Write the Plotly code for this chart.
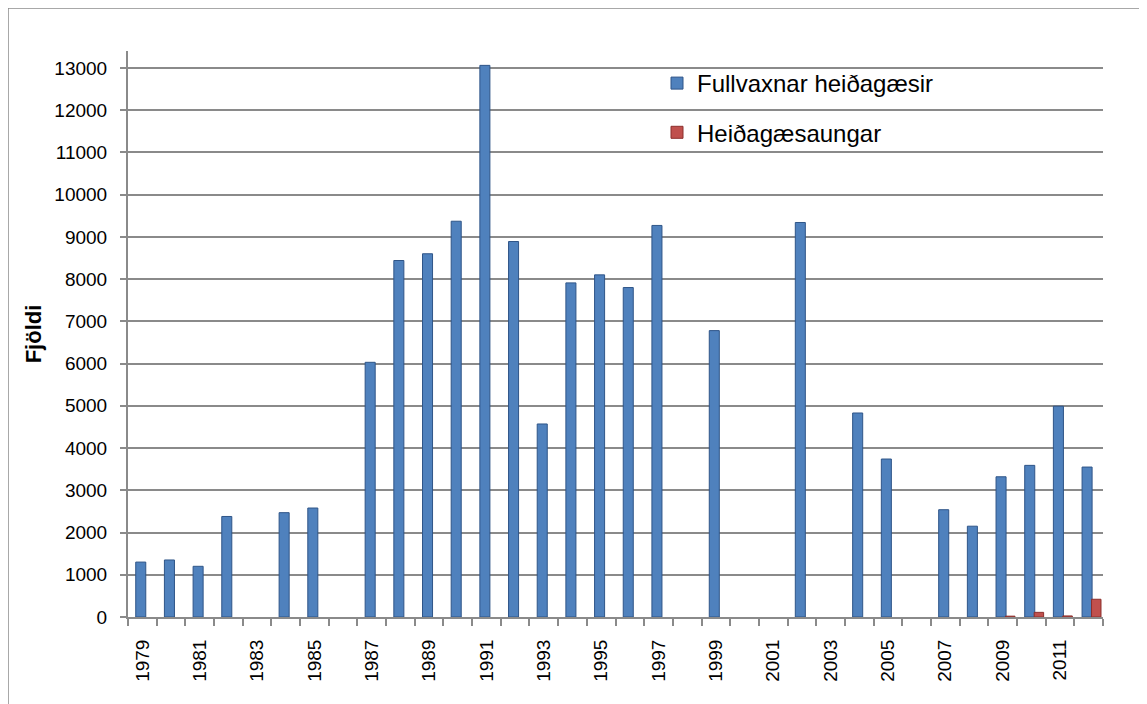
import plotly.graph_objects as go

years = list(range(1979, 2013))
adults = [1300, 1350, 1200, 2380, None, 2470, 2580, None, 6030, 8440,
          8600, 9370, 13060, 8890, 4570, 7910, 8100, 7800, 9270, None,
          6780, None, None, 9340, None, 4830, 3740, None, 2540, 2150,
          3320, 3590, 4990, 3550]
goslings = [None] * 30 + [20, 110, 25, 420]
tick_years = list(range(1979, 2013, 2))
boundaries = [y - 0.5 for y in years] + [years[-1] + 0.5]

name_adults = "Fullvaxnar heiðagæsir"
name_goslings = "Heiðagæsaungar"

FONT = "Liberation Sans, Arial, sans-serif"
GRID = "#8a8a8a"

# page body has an 8px margin; target positions are screen pixels
OFF = 8
W, H = 1147 - OFF, 704 - OFF
L, T = 128 - OFF, 51 - OFF
R = W - (1103 - OFF)
B = H - (617 - OFF)
pw, ph = W - L - R, H - T - B


def px(xs):
    return (xs - OFF - L) / pw


def py(ys):
    return (H - B - (ys - OFF)) / ph


fig = go.Figure()
fig.add_trace(go.Bar(
    x=years, y=adults, name=name_adults, legendgroup="a",
    width=0.35, offset=-0.23,
    marker=dict(color="#4F81BD", line=dict(color="#2f5588", width=1)),
))
fig.add_trace(go.Bar(
    x=years, y=goslings, name=name_goslings, legendgroup="b",
    width=0.33, offset=0.1,
    marker=dict(color="#C0504D", line=dict(color="#8c2f2c", width=1)),
))

fig.update_layout(
    width=W, height=H,
    margin=dict(l=L, r=R, t=T, b=B),
    paper_bgcolor="white", plot_bgcolor="white",
    barmode="overlay",
    font=dict(family=FONT, size=18, color="black"),
    legend=dict(
        x=px(657), y=py(61), xanchor="left", yanchor="top",
        bgcolor="rgba(0,0,0,0)", font=dict(size=24, family=FONT),
        traceorder="grouped", tracegroupgap=15,
    ),
    xaxis=dict(
        range=[1978.5, 2012.5],
        tickmode="array", tickvals=tick_years, ticktext=[str(y) for y in tick_years],
        tickangle=-90, ticks="", tickfont=dict(size=19), ticklabelstandoff=13,
        showgrid=False, zeroline=False,
        showline=True, linecolor=GRID, linewidth=2,
        minor=dict(tickmode="array", tickvals=boundaries, ticks="outside",
                   ticklen=7, tickcolor=GRID, tickwidth=2, showgrid=False),
    ),
    yaxis=dict(
        range=[0, 13400], tickmode="linear", tick0=0, dtick=1000, tickformat="d",
        showgrid=True, gridcolor=GRID, gridwidth=2,
        zeroline=False, showline=True, linecolor=GRID, linewidth=2,
        ticks="outside", ticklen=6, tickcolor=GRID, tickwidth=2,
        tickfont=dict(size=19), ticklabelstandoff=9,
        title=dict(text="<b>Fjöldi</b>", font=dict(size=22), standoff=7),
    ),
    shapes=[dict(
        type="rect", xref="paper", yref="paper",
        x0=px(8), x1=px(1160), y0=py(720), y1=py(8),
        line=dict(color="#8c8c8c", width=1.5), fillcolor="rgba(0,0,0,0)", layer="below",
    )],
)

fig.write_html("out.html")
